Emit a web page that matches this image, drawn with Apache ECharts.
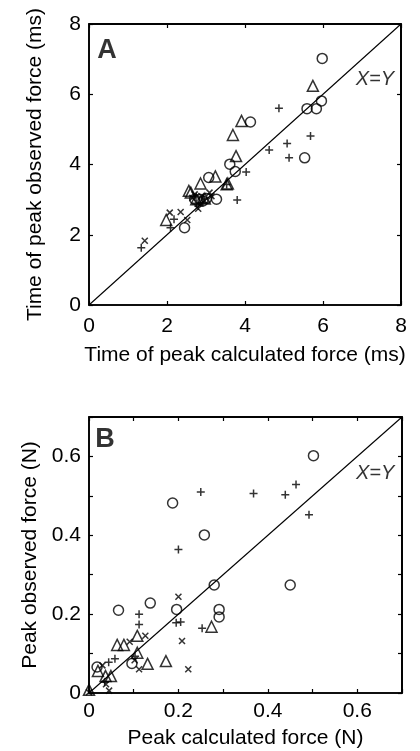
<!DOCTYPE html>
<html>
<head>
<meta charset="utf-8">
<script src="https://cdn.jsdelivr.net/npm/echarts@6/dist/echarts.min.js"></script>
<style>
html,body{margin:0;padding:0;background:#fff;}
#wrap{position:relative;width:420px;height:751px;}
#ca{position:absolute;left:0;top:0;width:420px;height:375px;}
#cb{position:absolute;left:0;top:375px;width:420px;height:376px;}
</style>
</head>
<body>
<div id="wrap"><div id="ca"></div><div id="cb"></div></div>
<script>
// ---- Panel A: time of peak (ms) ----
const aCircles = [[5.98,7.02],[4.14,5.21],[5.96,5.81],[5.59,5.59],[5.83,5.59],[5.53,4.19],[3.61,4.01],[3.75,3.80],[3.07,3.63],[3.27,3.01],[2.45,2.20],[2.71,3.01],[2.84,3.01],[2.92,2.96],[3.01,3.03]];
const aTriangles = [[5.74,6.24],[3.91,5.24],[3.69,4.84],[3.77,4.24],[3.24,3.66],[2.86,3.46],[3.53,3.44],[3.56,3.46],[2.56,3.25],[1.98,2.42],[2.61,3.20],[2.75,3.01],[2.97,3.03]];
const aPluses = [[4.87,5.60],[5.68,4.81],[5.08,4.60],[4.62,4.41],[5.13,4.19],[4.03,3.79],[3.80,2.99],[1.34,1.63],[2.18,2.44],[2.09,2.20],[3.53,3.43],[2.80,2.82],[2.92,2.91],[2.75,2.90]];
const aCrosses = [[1.43,1.83],[2.07,2.63],[2.35,2.65],[2.52,2.42],[2.71,3.15],[2.88,3.10],[3.09,3.20],[3.14,3.10],[2.80,2.74],[2.65,3.05],[2.95,2.98]];
const aRange = [0, 8];
const aTicks = [0, 2, 4, 6, 8];
const aLetterAt = [0.46, 7.23];
const aIdentityLabelAt = [7.33, 6.43];

// ---- Panel B: peak force (N) ----
const bCircles = [[0.502,0.602],[0.187,0.482],[0.258,0.401],[0.280,0.274],[0.450,0.274],[0.196,0.212],[0.137,0.228],[0.066,0.210],[0.291,0.212],[0.291,0.193],[0.096,0.075],[0.018,0.066]];
const bTriangles = [[0.274,0.168],[0.172,0.081],[0.108,0.145],[0.063,0.122],[0.078,0.122],[0.108,0.102],[0.131,0.074],[0.020,0.056],[0.037,0.043],[0.049,0.043],[0.0,0.008]];
const bPluses = [[0.250,0.510],[0.368,0.506],[0.439,0.503],[0.463,0.529],[0.492,0.452],[0.200,0.364],[0.112,0.200],[0.112,0.174],[0.195,0.178],[0.205,0.180],[0.253,0.164],[0.103,0.093],[0.058,0.087],[0.044,0.078],[0.035,0.027]];
const bCrosses = [[0.200,0.244],[0.208,0.132],[0.222,0.060],[0.126,0.145],[0.091,0.130],[0.102,0.083],[0.112,0.060],[0.030,0.070],[0.038,0.022],[0.045,0.006],[0.0,0.002]];
const bRange = [0, 0.7];
const bLabelTicks = [0, 0.2, 0.4, 0.6];
const bLetterAt = [0.036, 0.642];
const bIdentityLabelAt = [0.640, 0.558];

const FONT = 'Liberation Sans, Arial, Helvetica, sans-serif';
const FS = 21;
const PLUS = 'path://M0,5L10,5M5,0L5,10';
const CROSS = 'path://M0,0L10,10M10,0L0,10';

function axisBase(extra) {
  return Object.assign({
    type: 'value',
    axisLine: {show: true, onZero: false, lineStyle: {color: '#000', width: 1.6}},
    axisTick: {show: true, inside: true, length: 4, lineStyle: {color: '#000', width: 1.2}},
    splitLine: {show: false},
    axisLabel: {color: '#000', fontFamily: FONT, fontSize: FS},
    nameTextStyle: {color: '#000', fontFamily: FONT, fontSize: FS},
    nameLocation: 'middle'
  }, extra);
}
function fmtA(v) { return aTicks.indexOf(v) >= 0 ? String(v) : ''; }
function fmtB(v) {
  const r = Math.round(v * 10) / 10;
  return bLabelTicks.some(t => Math.abs(t - r) < 1e-9) ? String(r) : '';
}
function scatter(data, symbol, size) {
  return {
    type: 'scatter', data: data, symbol: symbol, symbolSize: size,
    itemStyle: {color: 'rgba(0,0,0,0)', borderColor: '#000', borderWidth: 1.5}
  };
}
function identity(range) {
  return {
    type: 'line', xAxisIndex: 1, yAxisIndex: 1, symbol: 'none',
    data: [[range[0], range[0]], [range[1], range[1]]],
    lineStyle: {color: '#000', width: 1.1}
  };
}
// top and right edges of the box, from the axis extent
function frame(range) {
  return {
    type: 'line', xAxisIndex: 1, yAxisIndex: 1, symbol: 'none', clip: false,
    data: [[range[0], range[1]], [range[1], range[1]], [range[1], range[0]]],
    lineStyle: {color: '#000', width: 1.6}
  };
}
// text annotation placed in data coordinates
function textMark(pos, text, size, weight, style) {
  return {
    type: 'scatter', symbol: 'circle', symbolSize: 1,
    itemStyle: {color: 'rgba(0,0,0,0)'},
    data: [pos],
    label: {show: true, position: 'inside', formatter: text, color: '#000',
      fontFamily: FONT, fontSize: size, fontWeight: weight, fontStyle: style}
  };
}

function buildPanel(el, cfg) {
  const chart = echarts.init(el);
  chart.setOption({
    animation: false,
    grid: [Object.assign({show: true, borderColor: '#000', borderWidth: 1.6, outerBoundsMode: 'none'}, cfg.grid)],
    xAxis: [
      axisBase({position: 'bottom', min: cfg.range[0], max: cfg.range[1], interval: cfg.interval,
        name: cfg.xName, nameGap: cfg.xNameGap,
        axisLabel: {color: '#000', fontFamily: FONT, fontSize: FS, margin: cfg.xLabelMargin, formatter: cfg.fmt}}),
      axisBase({position: 'top', min: cfg.range[0], max: cfg.range[1], interval: cfg.interval, axisLabel: {show: false}})
    ],
    yAxis: [
      axisBase({position: 'left', min: cfg.range[0], max: cfg.range[1], interval: cfg.interval,
        name: cfg.yName, nameGap: 43,
        axisLabel: {color: '#000', fontFamily: FONT, fontSize: FS, margin: 8, formatter: cfg.fmt}}),
      axisBase({position: 'right', min: cfg.range[0], max: cfg.range[1], interval: cfg.interval, axisLabel: {show: false}})
    ],
    series: [
      frame(cfg.range),
      identity(cfg.range),
      scatter(cfg.circles, 'circle', 10),
      scatter(cfg.triangles, 'triangle', 11),
      scatter(cfg.pluses, PLUS, 8),
      scatter(cfg.crosses, CROSS, 6),
      textMark(cfg.letterAt, cfg.letter, 27, 'bold', 'normal'),
      textMark(cfg.xyAt, 'X=Y', 20, 'normal', 'italic')
    ]
  });
}

buildPanel(document.getElementById('ca'), {
  grid: {left: 89, top: 24, width: 312, height: 281},
  range: aRange, interval: 2, fmt: fmtA,
  xName: 'Time of peak calculated force (ms)', xNameGap: 40, xLabelMargin: 11,
  yName: 'Time of peak observed force (ms)',
  circles: aCircles, triangles: aTriangles, pluses: aPluses, crosses: aCrosses,
  letter: 'A', letterAt: aLetterAt, xyAt: aIdentityLabelAt
});
buildPanel(document.getElementById('cb'), {
  grid: {left: 89, top: 42, width: 313, height: 276},
  range: bRange, interval: 0.1, fmt: fmtB,
  xName: 'Peak calculated force (N)', xNameGap: 35, xLabelMargin: 8,
  yName: 'Peak observed force (N)',
  circles: bCircles, triangles: bTriangles, pluses: bPluses, crosses: bCrosses,
  letter: 'B', letterAt: bLetterAt, xyAt: bIdentityLabelAt
});
</script>
</body>
</html>
